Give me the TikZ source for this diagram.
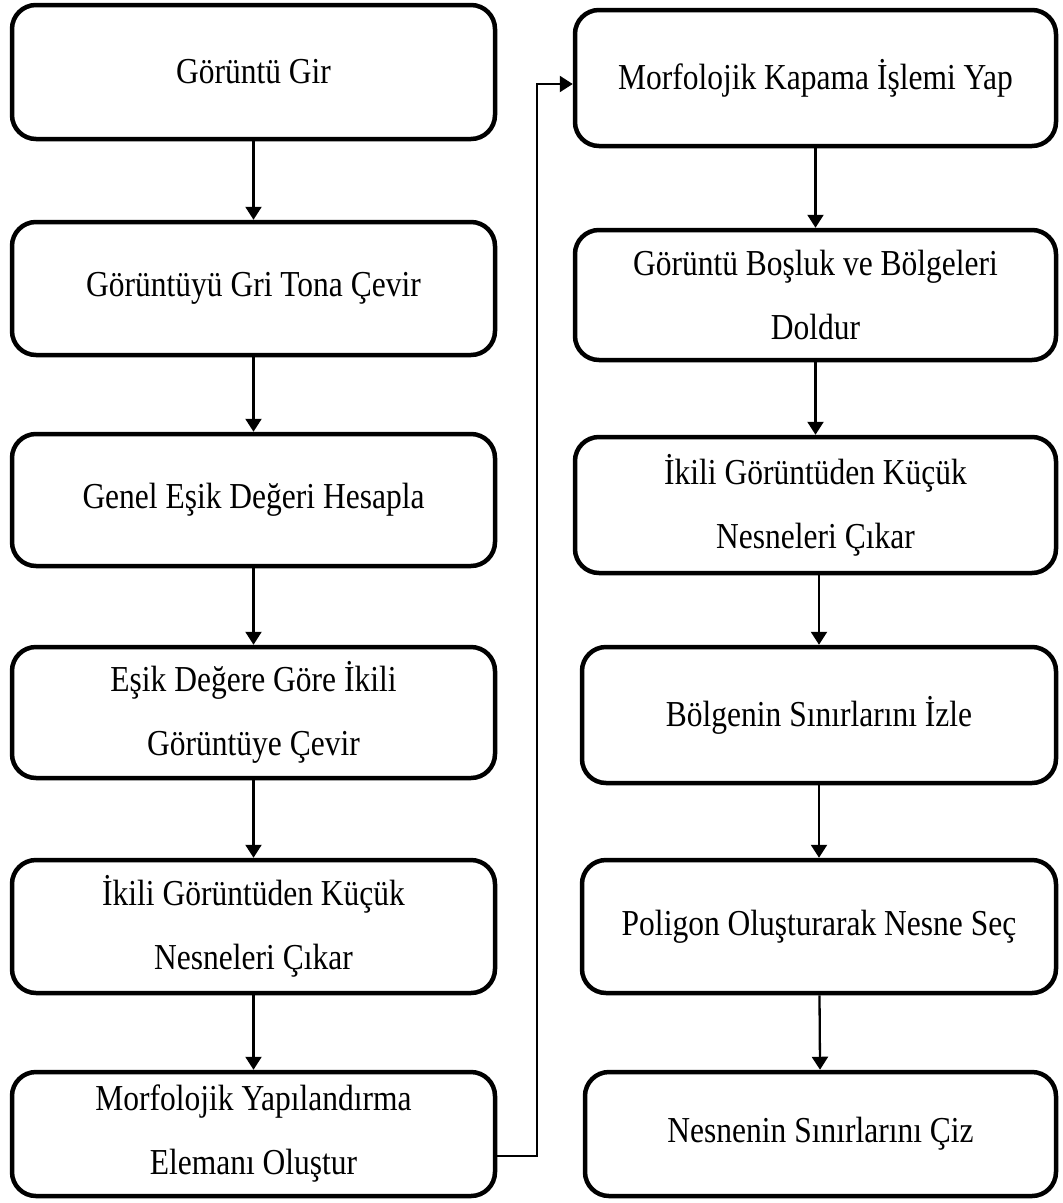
\documentclass[tikz,border=0pt]{standalone}
\usepackage{fontspec}
\usepackage{graphicx}
\setmainfont{Liberation Serif}
\usetikzlibrary{arrows.meta}
\newcommand{\vstr}[1]{\scalebox{1}[1.16]{#1}}
\begin{document}
\begin{tikzpicture}[x=1pt,y=-1pt,
  box/.style={draw=black,line width=4.5pt,rounded corners=24pt,align=center,
    font=\fontsize{31.5}{64}\selectfont,inner sep=0pt},
  arr/.style={draw=black,line width=2.3pt,-{Triangle[width=16pt,length=13pt]}}]
\fill[white] (0,0) rectangle (1063,1203);
\useasboundingbox (0,0) rectangle (1063,1203);
% left column
\node[box,minimum width=483pt,minimum height=134pt] (L1) at (253.5,72) {\vstr{Görüntü Gir}};
\node[box,minimum width=483pt,minimum height=133pt] (L2) at (253.5,288.5) {\vstr{Görüntüyü Gri Tona Çevir}};
\node[box,minimum width=483pt,minimum height=132pt] (L3) at (253.5,500) {\vstr{Genel Eşik Değeri Hesapla}};
\node[box,minimum width=483pt,minimum height=131pt] (L4) at (253.5,712.5) {\vstr{Eşik Değere Göre İkili}\\\vstr{Görüntüye Çevir}};
\node[box,minimum width=483pt,minimum height=133pt] (L5) at (253.5,926.5) {\vstr{İkili Görüntüden Küçük}\\\vstr{Nesneleri Çıkar}};
\node[box,minimum width=483pt,minimum height=124pt] (L6) at (253.5,1134) {\vstr{Morfolojik Yapılandırma}\\\vstr{Elemanı Oluştur}};
% right column
\node[box,minimum width=481pt,minimum height=136pt] (R1) at (815.5,78) {\vstr{Morfolojik Kapama İşlemi Yap}};
\node[box,minimum width=481pt,minimum height=130pt] (R2) at (815.5,295) {\vstr{Görüntü Boşluk ve Bölgeleri}\\\vstr{Doldur}};
\node[box,minimum width=481pt,minimum height=136pt] (R3) at (815.5,505) {\vstr{İkili Görüntüden Küçük}\\\vstr{Nesneleri Çıkar}};
\node[box,minimum width=474pt,minimum height=136pt] (R4) at (819,715) {\vstr{Bölgenin Sınırlarını İzle}};
\node[box,minimum width=474pt,minimum height=133pt] (R5) at (819,926.5) {\vstr{Poligon Oluşturarak Nesne Seç}};
\node[box,minimum width=471pt,minimum height=124pt] (R6) at (820.5,1134) {\vstr{Nesnenin Sınırlarını Çiz}};
% arrows
\draw[arr] (L1) -- (L2);
\draw[arr] (L2) -- (L3);
\draw[arr] (L3) -- (L4);
\draw[arr] (L4) -- (L5);
\draw[arr] (L5) -- (L6);
\draw[arr] (R1) -- (R2);
\draw[arr] (R2) -- (R3);
\draw[arr] (R3.south -| R4.north) -- (R4);
\draw[arr] (R4) -- (R5);
\draw[arr] (R5) -- (R6);
\coordinate (bend) at (537,84);
\draw[arr] ([yshift=-22pt]L6.east) -| (bend) -- (bend -| R1.west);
\end{tikzpicture}
\end{document}
